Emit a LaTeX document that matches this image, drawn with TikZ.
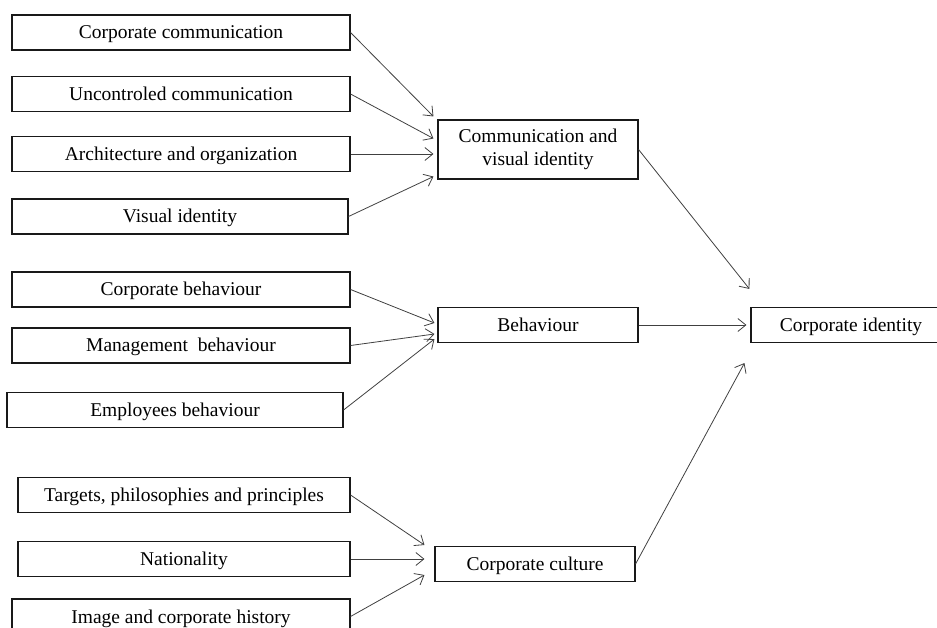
\documentclass[tikz,border=0pt]{standalone}
\usepackage{fontspec}
\setmainfont{Liberation Serif}
\usetikzlibrary{arrows.meta}
\usetikzlibrary{calc}

\begin{document}
\begin{tikzpicture}[x=1pt,y=-1pt,
		box/.style={draw=black!90,line width=1.1pt,minimum height=35pt,inner sep=0pt,align=center,text height=15pt,text depth=2pt,font=\fontsize{19.5}{23}\selectfont},
		arr/.style={draw=black!75,line width=0.8pt,-{Straight Barb[length=8pt,width=13pt]}}]
		\useasboundingbox (0,0) rectangle (937,628);
		
		% first group
		\node[box,minimum width=338pt] (ccom) at (181,32.5) {Corporate communication};
		\node[box,minimum width=338pt] (ucom) at (181,94) {Uncontroled communication};
		\node[box,minimum width=338pt] (arch) at (181,154) {Architecture and organization};
		\node[box,minimum width=336pt] (vis) at (180,216.5) {Visual identity};
		\node[box,minimum width=200pt,minimum height=59pt,text height=,text depth=] (cvi) at (538,149.5) {Communication and\\visual identity};
		
		% second group
		\node[box,minimum width=338pt] (cbeh) at (181,289.5) {Corporate behaviour};
		\node[box,minimum width=338pt] (mbeh) at (181,345.5) {Management\ \ behaviour};
		\node[box,minimum width=336pt] (ebeh) at (175,410) {Employees behaviour};
		\node[box,minimum width=200pt] (beh) at (538,325) {Behaviour};
		
		% third group
		\node[box,minimum width=332pt] (targ) at (184,495) {Targets, philosophies and principles};
		\node[box,minimum width=332pt] (nat) at (184,559) {Nationality};
		\node[box,minimum width=338pt] (img) at (181,616.5) {Image and corporate history};
		\node[box,minimum width=200pt] (ccul) at (535,564) {Corporate culture};
		
		\node[box,minimum width=200pt] (cid) at (851,325) {Corporate identity};
		
		\draw[arr] (ccom.east) -- ($(cvi.north west)+(-4,-3)$);
		\draw[arr] (ucom.east) -- ($(cvi.west)+(-4,-11)$);
		\draw[arr] (arch.east) -- ($(cvi.west)+(-4,4.5)$);
		\draw[arr] (vis.east) -- ($(cvi.south west)+(-4,-3)$);
		
		\draw[arr] (cbeh.east) -- ($(beh.west)+(-3,-2)$);
		\draw[arr] (mbeh.east) -- ($(beh.west)+(-3,9)$);
		\draw[arr] (ebeh.east) -- ($(beh.south west)+(-3,-4)$);
		
		\draw[arr] (targ.east) -- ($(ccul.west)+(-10,-19)$);
		\draw[arr] (nat.east) -- ($(ccul.west)+(-10,-5)$);
		\draw[arr] (img.east) -- ($(ccul.west)+(-10,11)$);
		
		\draw[arr] (cvi.east) -- ($(cid.north west)+(-1,-18)$);
		\draw[arr] (beh.east) -- ($(cid.west)+(-4,0)$);
		\draw[arr] (ccul.east) -- ($(cid.south west)+(-6,20)$);
	\end{tikzpicture}
\end{document}
